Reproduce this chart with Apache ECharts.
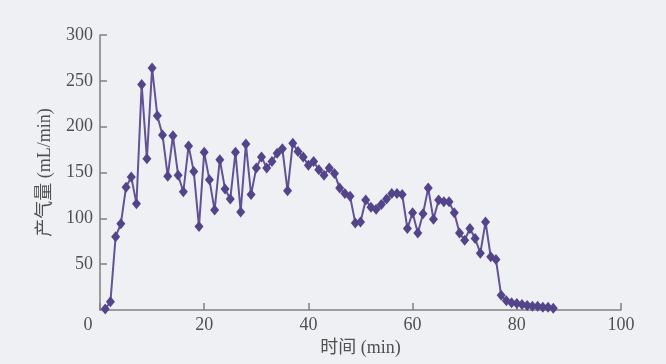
<!DOCTYPE html>
<html>
<head>
<meta charset="utf-8">
<script src="https://cdn.jsdelivr.net/npm/echarts@6/dist/echarts.min.js"></script>
<style>
  html, body { margin: 0; padding: 0; background: #eff0f4; }
  #chart { width: 666px; height: 364px; }
</style>
</head>
<body>
<div id="chart"></div>
<script>
var timeMin = [1, 2, 3, 4, 5, 6, 7, 8, 9, 10, 11, 12, 13, 14, 15, 16, 17, 18, 19, 20,
  21, 22, 23, 24, 25, 26, 27, 28, 29, 30, 31, 32, 33, 34, 35, 36, 37, 38, 39, 40,
  41, 42, 43, 44, 45, 46, 47, 48, 49, 50, 51, 52, 53, 54, 55, 56, 57, 58, 59, 60,
  61, 62, 63, 64, 65, 66, 67, 68, 69, 70, 71, 72, 73, 74, 75, 76, 77, 78, 79, 80,
  81, 82, 83, 84, 85, 86, 87];
var gasRate = [1, 9, 80, 94, 134, 145, 116, 246, 165, 264, 212, 191, 146, 190, 147, 129, 179, 151, 91, 172,
  142, 109, 164, 132, 121, 172, 107, 181, 126, 155, 167, 155, 162, 171, 176, 130, 182, 173, 167, 158,
  162, 153, 147, 155, 149, 133, 127, 124, 95, 96, 120, 112, 110, 115, 121, 127, 127, 126, 89, 106,
  84, 105, 133, 99, 120, 118, 118, 106, 84, 76, 89, 78, 62, 96, 58, 55, 16, 10, 8, 7,
  6, 5, 4, 4, 3, 3, 2];

var chartDom = document.getElementById('chart');
var myChart = echarts.init(chartDom);
var option;

var textColor = '#505050';
var axisColor = '#808080';
var serif = 'Liberation Serif, Noto Sans CJK SC';

option = {
  backgroundColor: '#eff0f4',
  animation: false,
  grid: { left: 100, right: 45, top: 35, bottom: 54 },
  xAxis: {
    type: 'value',
    min: 0,
    max: 100,
    interval: 20,
    name: '时间 (min)',
    nameLocation: 'middle',
    nameGap: 29,
    nameTextStyle: { color: textColor, fontSize: 18, fontFamily: serif },
    axisLine: { lineStyle: { color: axisColor, width: 1.5 } },
    axisTick: { inside: true, length: 7, lineStyle: { color: axisColor, width: 1.5 } },
    axisLabel: {
      color: textColor,
      fontSize: 18,
      fontFamily: serif,
      margin: 6,
      formatter: function (v) {
        return v === 0 ? '{z|0}' : String(v);
      },
      rich: {
        z: { color: textColor, fontSize: 18, fontFamily: serif, padding: [0, 24, 0, 0] }
      }
    },
    splitLine: { show: false }
  },
  yAxis: {
    type: 'value',
    min: 0,
    max: 300,
    interval: 50,
    name: '产气量 (mL/min)',
    nameLocation: 'middle',
    nameGap: 46,
    nameTextStyle: { color: textColor, fontSize: 18, fontFamily: serif },
    axisLine: { show: true, lineStyle: { color: axisColor, width: 1.5 } },
    axisTick: { show: true, inside: true, length: 7, lineStyle: { color: axisColor, width: 1.5 } },
    axisLabel: {
      color: textColor,
      fontSize: 18,
      fontFamily: serif,
      margin: 7,
      showMinLabel: false
    },
    splitLine: { show: false }
  },
  series: [
    {
      name: '产气量',
      type: 'line',
      data: timeMin.map(function (t, i) { return [t, gasRate[i]]; }),
      symbol: 'diamond',
      symbolSize: [9, 11],
      lineStyle: { color: '#625296', width: 2 },
      itemStyle: { color: '#54458a' }
    }
  ]
};

option && myChart.setOption(option);
</script>
</body>
</html>
